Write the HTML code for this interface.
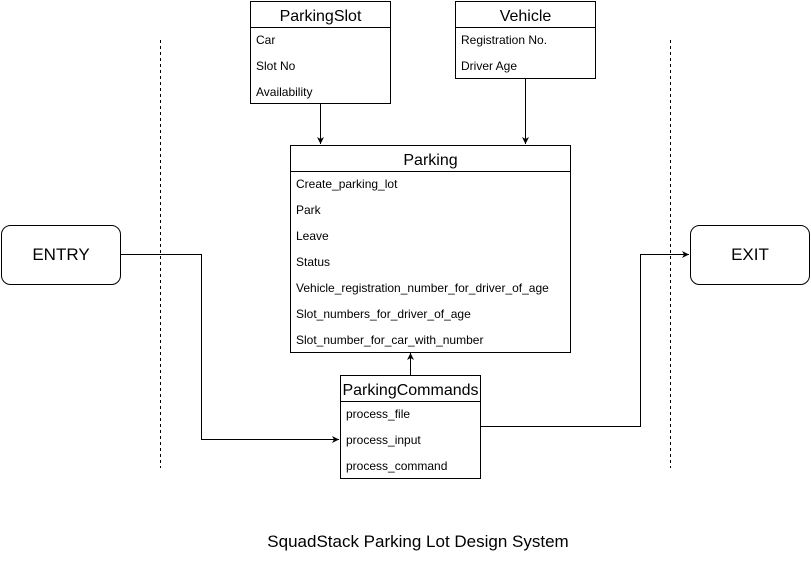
<!DOCTYPE html>
<html><head><meta charset="utf-8"><style>
html,body{margin:0;padding:0;background:#fff;}
svg text{font-family:"Liberation Sans",Arial,sans-serif;fill:#000;}
</style></head><body>
<svg width="811" height="575" viewBox="0 0 811 575" xmlns="http://www.w3.org/2000/svg">
<defs><marker id="a" markerWidth="8" markerHeight="8" refX="7" refY="4" orient="auto" markerUnits="userSpaceOnUse"><path d="M0,0.5 L7,4 L0,7.5 L2,4 Z" fill="#000"/></marker></defs>
<g stroke="#000" stroke-width="1" fill="none">
<line x1="160.5" y1="40" x2="160.5" y2="468" stroke-dasharray="3,3"/>
<line x1="670.5" y1="40" x2="670.5" y2="468" stroke-dasharray="3,3"/>
<rect x="250.5" y="1.5" width="140" height="102" fill="#fff"/>
<line x1="250.5" y1="27.5" x2="390.5" y2="27.5"/>
<rect x="455.5" y="1.5" width="140" height="77" fill="#fff"/>
<line x1="455.5" y1="27.5" x2="595.5" y2="27.5"/>
<rect x="290.5" y="145.5" width="280" height="207" fill="#fff"/>
<line x1="290.5" y1="171.5" x2="570.5" y2="171.5"/>
<rect x="340.5" y="375.5" width="140" height="103" fill="#fff"/>
<line x1="340.5" y1="401.5" x2="480.5" y2="401.5"/>
<rect x="1.5" y="225.5" width="119" height="59" rx="9" fill="#fff"/>
<rect x="690.5" y="225.5" width="119" height="59" rx="9" fill="#fff"/>
<line x1="320.5" y1="104" x2="320.5" y2="144" marker-end="url(#a)"/>
<line x1="525.5" y1="79" x2="525.5" y2="144" marker-end="url(#a)"/>
<line x1="410.5" y1="375" x2="410.5" y2="353" marker-end="url(#a)"/>
<polyline points="121,254.5 201.5,254.5 201.5,439.5 339,439.5" marker-end="url(#a)"/>
<polyline points="481,426.5 640.5,426.5 640.5,254.5 689,254.5" marker-end="url(#a)"/>
</g>
<g font-size="16" text-anchor="middle">
<text x="320.5" y="21">ParkingSlot</text>
<text x="525.5" y="21">Vehicle</text>
<text x="430.5" y="165">Parking</text>
<text x="410.5" y="395">ParkingCommands</text>
<text x="61" y="260" font-size="17">ENTRY</text>
<text x="750" y="260" font-size="17">EXIT</text>
<text x="418" y="547" font-size="17">SquadStack Parking Lot Design System</text>
</g>
<g font-size="12">
<text x="256" y="44">Car</text>
<text x="256" y="70">Slot No</text>
<text x="256" y="96">Availability</text>
<text x="461" y="44">Registration No.</text>
<text x="461" y="70">Driver Age</text>
<text x="296" y="188">Create_parking_lot</text>
<text x="296" y="214">Park</text>
<text x="296" y="240">Leave</text>
<text x="296" y="266">Status</text>
<text x="296" y="292">Vehicle_registration_number_for_driver_of_age</text>
<text x="296" y="318">Slot_numbers_for_driver_of_age</text>
<text x="296" y="344">Slot_number_for_car_with_number</text>
<text x="346" y="418">process_file</text>
<text x="346" y="444">process_input</text>
<text x="346" y="470">process_command</text>
</g>
</svg>
</body></html>
